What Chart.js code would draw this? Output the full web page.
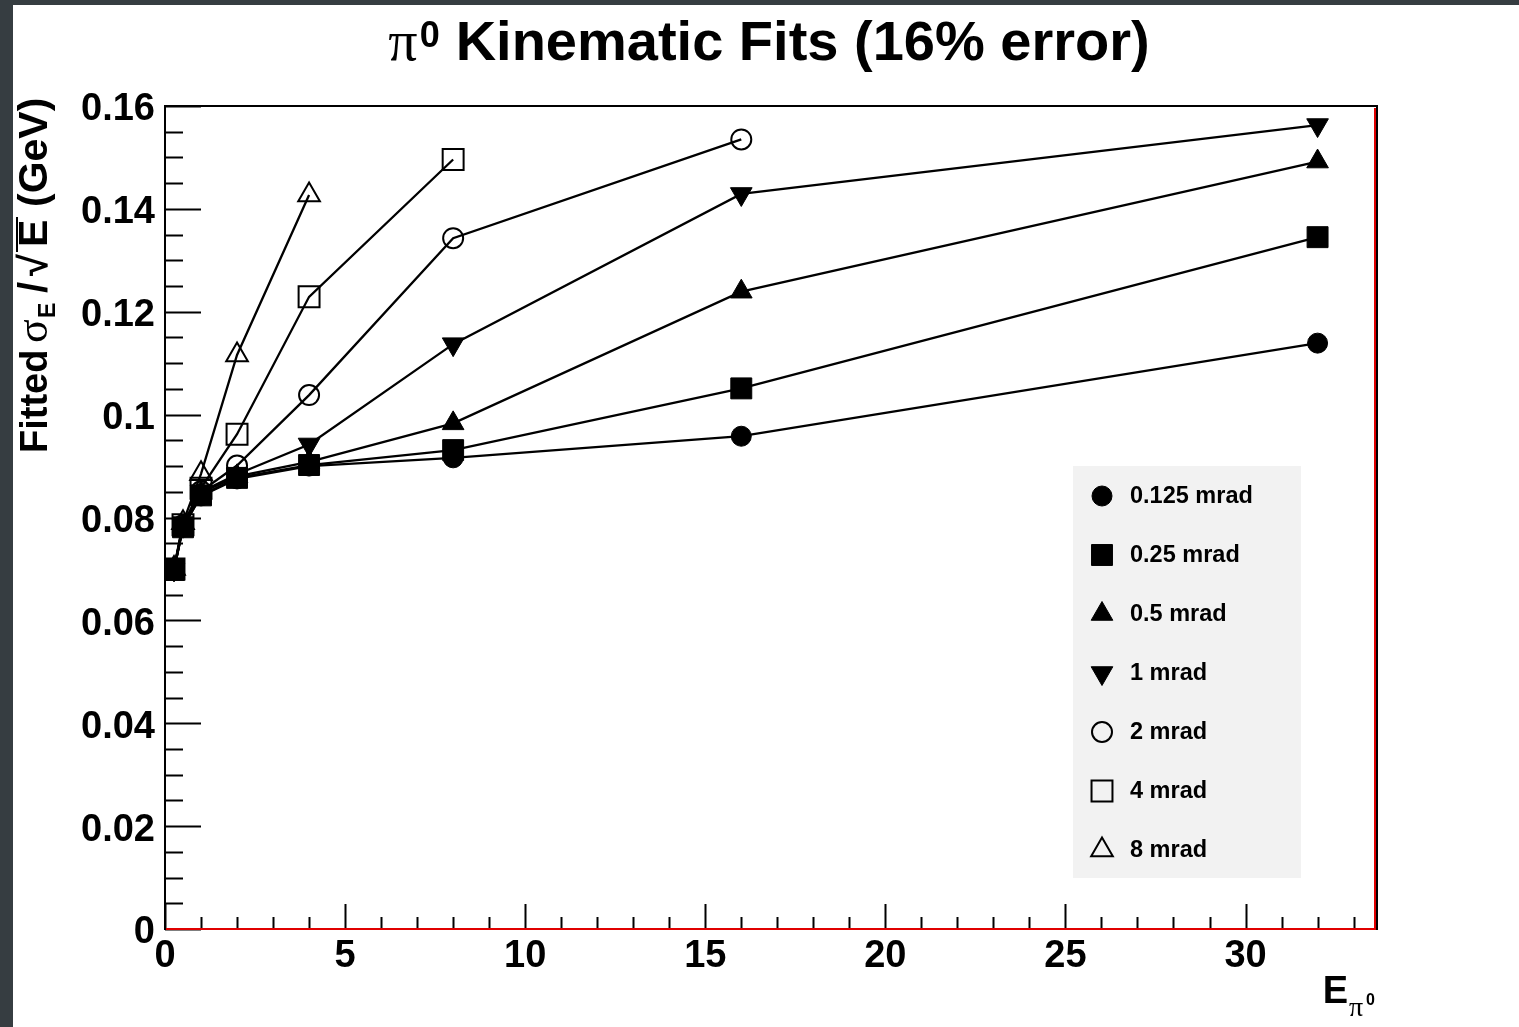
<!DOCTYPE html>
<html>
<head>
<meta charset="utf-8">
<script src="https://cdn.jsdelivr.net/npm/chart.js@4.4.1/dist/chart.umd.min.js"></script>
<style>
  html, body { margin: 0; padding: 0; background: #fff; overflow: hidden; }
  #wrap { position: relative; width: 1519px; height: 1027px; }
</style>
</head>
<body>
<div id="wrap"><canvas id="fits"></canvas></div>
<script>
// pi0 energy (GeV)
const energies = [0.25, 0.5, 1, 2, 4, 8, 16, 32];

const seriesLabels = ['0.125 mrad', '0.25 mrad', '0.5 mrad', '1 mrad', '2 mrad', '4 mrad', '8 mrad'];

// fitted sigma_E / sqrt(E)
const res0125 = [0.0698, 0.0781, 0.0842, 0.0875, 0.0900, 0.0916, 0.0958, 0.1139];
const res025  = [0.0698, 0.0781, 0.0843, 0.0877, 0.0902, 0.0931, 0.1051, 0.1345];
const res05   = [0.0699, 0.0782, 0.0848, 0.0880, 0.0908, 0.0983, 0.1239, 0.1492];
const res1    = [0.0699, 0.0784, 0.0850, 0.0884, 0.0942, 0.1137, 0.1429, 0.1563];
const res2    = [0.0700, 0.0785, 0.0851, 0.0901, 0.1038, 0.1343, 0.1535];
const res4    = [0.0700, 0.0786, 0.0857, 0.0962, 0.1229, 0.1496];
const res8    = [0.0701, 0.0790, 0.0885, 0.1116, 0.1427];

const xTicks = [0, 5, 10, 15, 20, 25, 30];
const yTicks = [0, 0.02, 0.04, 0.06, 0.08, 0.1, 0.12, 0.14, 0.16];

const SANS = '"Liberation Sans", Arial, sans-serif';
const SERIF = '"Liberation Serif", "Times New Roman", serif';

function pts(vals) {
  return vals.map((v, i) => ({ x: energies[i], y: v }));
}

// marker look for each series (ROOT style: filled / open)
const markers = [
  { style: 'circle',   r: 10,   rot: 0,   fill: true },
  { style: 'rect',     r: 14.8, rot: 0,   fill: true },
  { style: 'triangle', r: 12.5, rot: 0,   fill: true },
  { style: 'triangle', r: 12.5, rot: 180, fill: true },
  { style: 'circle',   r: 10,   rot: 0,   fill: false },
  { style: 'rect',     r: 14.8, rot: 0,   fill: false },
  { style: 'triangle', r: 12.5, rot: 0,   fill: false }
];
const allSeries = [res0125, res025, res05, res1, res2, res4, res8];
const drawOrder = [1, 0, 2, 3, 4, 5, 6];

const datasets = allSeries.map((vals, i) => {
  const m = markers[i];
  return {
    label: seriesLabels[i],
    data: pts(vals),
    order: drawOrder[i],
    borderColor: '#000',
    borderWidth: 2.3,
    pointStyle: m.style,
    pointRadius: m.r,
    pointRotation: m.rot,
    pointBackgroundColor: m.fill ? '#000' : 'rgba(0,0,0,0)',
    pointBorderColor: '#000',
    pointBorderWidth: m.fill ? 1 : 2,
    fill: false,
    tension: 0
  };
});

// background + dark border strip
const backdrop = {
  id: 'backdrop',
  beforeDraw(chart) {
    const ctx = chart.ctx;
    ctx.save();
    ctx.fillStyle = '#fff';
    ctx.fillRect(0, 0, chart.width, chart.height);
    ctx.fillStyle = '#363d41';
    ctx.fillRect(0, 0, 13, chart.height);
    ctx.fillRect(0, 0, chart.width, 5);
    ctx.restore();
  }
};

// frame and inward ticks, like ROOT
const frameTicks = {
  id: 'frameTicks',
  beforeDatasetsDraw(chart) {
    const { ctx, chartArea: a, scales } = chart;
    ctx.save();
    ctx.strokeStyle = '#000';
    ctx.lineWidth = 2;
    ctx.strokeRect(a.left, a.top, a.right - a.left, a.bottom - a.top);

    ctx.beginPath();
    for (let v = 0; v <= 33; v++) {
      const px = Math.round(scales.x.getPixelForValue(v)) + 0.5;
      const len = v % 5 === 0 ? 25 : 12;
      ctx.moveTo(px, a.bottom);
      ctx.lineTo(px, a.bottom - len);
    }
    for (let k = 0; k <= 32; k++) {
      const py = Math.round(scales.y.getPixelForValue(k * 0.005)) + 0.5;
      const len = k % 4 === 0 ? 36 : 18;
      ctx.moveTo(a.left, py);
      ctx.lineTo(a.left + len, py);
    }
    ctx.stroke();
    ctx.restore();
  },
  afterDatasetsDraw(chart) {
    const { ctx, chartArea: a } = chart;
    ctx.save();
    ctx.strokeStyle = '#e00000';
    ctx.lineWidth = 2;
    ctx.beginPath();
    ctx.moveTo(a.left + 1, a.bottom);
    ctx.lineTo(a.right - 2, a.bottom);
    ctx.lineTo(a.right - 2, a.top + 2);
    ctx.stroke();
    ctx.restore();
  }
};

// title and axis titles with super/subscripts
const texts = {
  id: 'texts',
  afterDraw(chart) {
    const ctx = chart.ctx;
    ctx.save();
    ctx.fillStyle = '#000';
    ctx.strokeStyle = '#000';
    ctx.textBaseline = 'alphabetic';
    ctx.textAlign = 'left';

    // title
    const fPi = '58px ' + SERIF, fSup = 'bold 36px ' + SANS, fMain = 'bold 56px ' + SANS;
    const mainTxt = 'Kinematic Fits (16% error)';
    ctx.font = fPi; const wPi = ctx.measureText('\u03c0').width;
    ctx.font = fSup; const wSup = ctx.measureText('0').width;
    ctx.font = fMain; const wMain = ctx.measureText(mainTxt).width;
    const gap = 16;
    let x = 769 - (wPi + 2 + wSup + gap + wMain) / 2;
    ctx.font = fPi; ctx.fillText('\u03c0', x, 60); x += wPi + 2;
    ctx.font = fSup; ctx.fillText('0', x, 47); x += wSup + gap;
    ctx.font = fMain; ctx.fillText(mainTxt, x, 60);

    // y axis title, rotated, reads upward from the bottom
    ctx.save();
    ctx.translate(47, 453);
    ctx.rotate(-Math.PI / 2);
    ctx.font = 'bold 38px ' + SANS; ctx.fillText('Fitted', 0, 0);
    ctx.font = '44px ' + SERIF; ctx.fillText('\u03c3', 110, 0);
    ctx.font = 'bold 23px ' + SANS; ctx.fillText('E', 135, 8);
    ctx.font = 'bold 40px ' + SANS; ctx.fillText('/', 160, 0);
    ctx.fillText('\u221a', 177, 0);
    ctx.font = 'bold 41px ' + SANS;
    ctx.fillText('E', 206, 0);
    ctx.lineWidth = 2;
    ctx.beginPath(); ctx.moveTo(201, -30); ctx.lineTo(236, -30); ctx.stroke();
    ctx.fillText('(GeV)', 246, 0);
    ctx.restore();

    // x axis title
    ctx.font = 'bold 38px ' + SANS;
    const wEx = ctx.measureText('E').width;
    ctx.fillText('E', 1348 - wEx, 1003);
    ctx.font = '28px ' + SERIF; ctx.fillText('\u03c0', 1349, 1016);
    ctx.font = 'bold 16px ' + SANS; ctx.fillText('0', 1366, 1005);
    ctx.restore();
  }
};

// boxed legend inside the frame
const boxLegend = {
  id: 'boxLegend',
  afterDraw(chart) {
    const ctx = chart.ctx;
    ctx.save();
    ctx.fillStyle = '#f2f2f2';
    ctx.fillRect(1073, 466, 228, 412);
    ctx.font = 'bold 23.5px ' + SANS;
    ctx.textBaseline = 'middle';
    chart.data.datasets.forEach((ds, i) => {
      const y = 496 + i * 59;
      ctx.fillStyle = ds.pointBackgroundColor;
      ctx.strokeStyle = '#000';
      ctx.lineWidth = ds.pointBorderWidth;
      Chart.helpers.drawPoint(ctx, {
        pointStyle: ds.pointStyle,
        radius: ds.pointRadius,
        rotation: ds.pointRotation,
        borderWidth: ds.pointBorderWidth
      }, 1102, y);
      ctx.fillStyle = '#000';
      ctx.fillText(ds.label, 1130, y + 1);
    });
    ctx.restore();
  }
};

new Chart(document.getElementById('fits'), {
  type: 'line',
  data: { datasets },
  plugins: [backdrop, frameTicks, texts, boxLegend],
  options: {
    responsive: true,
    maintainAspectRatio: false,
    animation: false,
    events: [],
    layout: { padding: { left: 0, top: 106, right: 142, bottom: 0 } },
    plugins: {
      legend: { display: false },
      title: { display: false },
      tooltip: { enabled: false }
    },
    scales: {
      x: {
        type: 'linear',
        min: 0,
        max: 33.65,
        afterBuildTicks: s => { s.ticks = xTicks.map(v => ({ value: v })); },
        afterFit: s => { s.height = 98; },
        grid: { display: false, drawTicks: false },
        border: { display: false },
        ticks: {
          color: '#000',
          padding: 5,
          maxRotation: 0,
          autoSkip: false,
          font: { family: SANS, size: 38, weight: 'bold' },
          callback: v => String(v)
        }
      },
      y: {
        type: 'linear',
        min: 0,
        max: 0.16,
        afterBuildTicks: s => { s.ticks = yTicks.map(v => ({ value: v })); },
        afterFit: s => { s.width = 165; },
        grid: { display: false, drawTicks: false },
        border: { display: false },
        ticks: {
          color: '#000',
          padding: 10,
          labelOffset: 4,
          autoSkip: false,
          font: { family: SANS, size: 38, weight: 'bold' },
          callback: v => String(+v.toFixed(3))
        }
      }
    }
  }
});
</script>
</body>
</html>
